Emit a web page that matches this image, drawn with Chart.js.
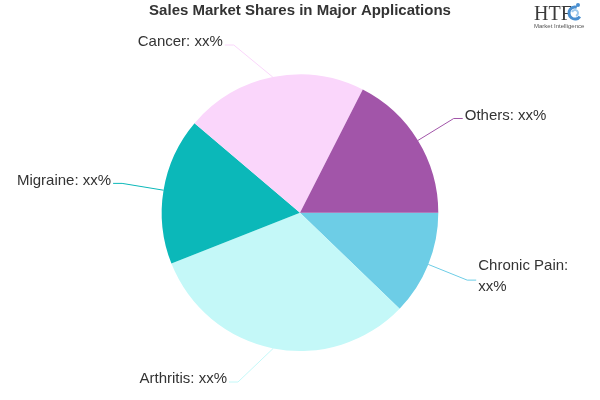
<!DOCTYPE html>
<html>
<head>
<meta charset="utf-8">
<script src="https://cdn.jsdelivr.net/npm/chart.js"></script>
<style>
    html, body { margin: 0; padding: 0; background: #fff; }
    canvas { display: block; }
</style>
</head>
<body>
<canvas id="pieCanvas" width="600" height="400"></canvas>
<script>
// chart data
const categories = ['Chronic Pain', 'Arthritis', 'Migraine', 'Cancer', 'Others'];
const shares = [12.2, 31.8, 17.2, 21.3, 17.5];
const valueLabels = ['xx%', 'xx%', 'xx%', 'xx%', 'xx%'];
const sliceColors = ['#6dcde6', '#c4f8f8', '#0bb8b9', '#fad6fb', '#a255a9'];

const labelFont = '15px "Liberation Sans", Arial, sans-serif';

// leader lines + outside labels
const outsideLabels = {
    id: 'outsideLabels',
    afterDatasetsDraw(chart) {
        const ctx = chart.ctx;
        const meta = chart.getDatasetMeta(0);
        ctx.save();
        ctx.font = labelFont;
        ctx.fillStyle = '#333';
        ctx.lineWidth = 1;
        meta.data.forEach((arc, i) => {
            const mid = (arc.startAngle + arc.endAngle) / 2;
            const r = arc.outerRadius;
            const cos = Math.cos(mid), sin = Math.sin(mid);
            const x0 = arc.x + cos * r, y0 = arc.y + sin * r;
            const dir = cos >= 0 ? 1 : -1;
            // elbow on a wider circle, kept clear of the title and bottom edge
            const rr = r + 42;
            let y1 = arc.y + sin * rr;
            y1 = Math.min(Math.max(y1, 45), 382);
            const dy = y1 - arc.y;
            const x1 = arc.x + dir * Math.sqrt(Math.max(rr * rr - dy * dy, 0));
            const x2 = x1 + dir * 9;

            ctx.strokeStyle = sliceColors[i];
            ctx.beginPath();
            ctx.moveTo(x0, y0);
            ctx.lineTo(x1, y1);
            ctx.lineTo(x2, y1);
            ctx.stroke();

            const text = categories[i] + ': ' + valueLabels[i];
            const tx = x2 + dir * 2;
            ctx.textAlign = dir > 0 ? 'left' : 'right';
            ctx.textBaseline = 'middle';
            const room = dir > 0 ? chart.width - tx - 4 : tx - 4;
            if (ctx.measureText(text).width > room) {
                ctx.fillText(categories[i] + ':', tx, y1 - 14);
                ctx.fillText(valueLabels[i], tx, y1 + 7);
            } else {
                ctx.fillText(text, tx, y1 - 3);
            }
        });
        ctx.restore();
    }
};

// little HTF logo in the corner
const logo = {
    id: 'logo',
    afterDraw(chart) {
        const ctx = chart.ctx;
        ctx.save();
        ctx.fillStyle = '#3a3a3a';
        ctx.font = '20px "Liberation Serif", serif';
        ctx.textBaseline = 'alphabetic';
        ctx.textAlign = 'left';
        ctx.fillText('HTF', 534, 20);
        ctx.strokeStyle = '#4a8fd0';
        ctx.lineWidth = 3;
        ctx.beginPath();
        ctx.arc(575, 13, 6, Math.PI * 0.2, Math.PI * 1.6);
        ctx.stroke();
        ctx.strokeStyle = '#9fc9ec';
        ctx.lineWidth = 2;
        ctx.beginPath();
        ctx.arc(575, 13, 3, Math.PI * 1.1, Math.PI * 2.4);
        ctx.stroke();
        ctx.fillStyle = '#4a8fd0';
        ctx.beginPath();
        ctx.arc(578, 5, 2, 0, Math.PI * 2);
        ctx.fill();
        ctx.fillStyle = '#555';
        ctx.font = '6px "Liberation Sans", sans-serif';
        ctx.fillText('Market Intelligence', 534, 28);
        ctx.restore();
    }
};

new Chart(document.getElementById('pieCanvas'), {
    type: 'pie',
    data: {
        labels: categories,
        datasets: [{
            data: shares,
            backgroundColor: sliceColors,
            borderWidth: 0,
            hoverOffset: 0
        }]
    },
    options: {
        responsive: false,
        animation: false,
        rotation: 90,
        layout: { padding: { top: 0, bottom: 49, left: 0, right: 0 } },
        plugins: {
            legend: { display: false },
            tooltip: { enabled: false },
            title: {
                display: true,
                text: 'Sales Market Shares in Major Applications',
                color: '#333',
                font: { family: '"Liberation Sans", Arial, sans-serif', size: 15, weight: 'bold' },
                padding: { top: 2, bottom: 54.4 }
            }
        }
    },
    plugins: [outsideLabels, logo]
});
</script>
</body>
</html>
